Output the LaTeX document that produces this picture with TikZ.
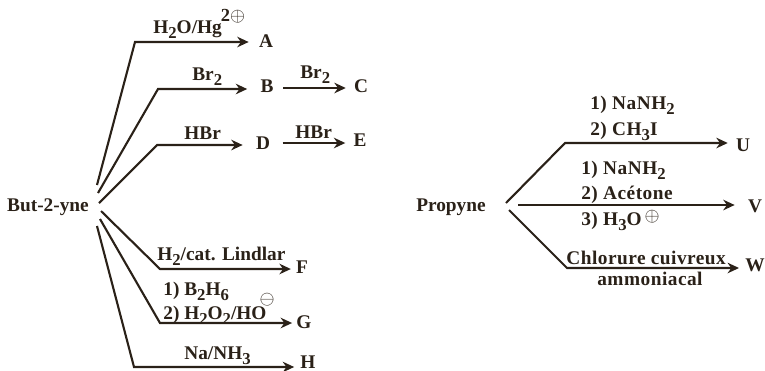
\documentclass[tikz,border=0pt]{standalone}
\usepackage{fontspec}
\setmainfont{Liberation Serif}
\newfontfamily\spaced[LetterSpace=2.5]{Liberation Serif}
\usepackage{xcolor}
\usetikzlibrary{arrows.meta}
\definecolor{ink}{HTML}{2A2118}
\newcommand{\dn}[1]{\raisebox{-0.6ex}{\fontsize{9.5}{10}\selectfont #1}}
\tikzset{
  cmp/.style={font=\bfseries\fontsize{11}{12}\selectfont, text=ink, inner sep=0pt},
  lbl/.style={font=\bfseries\fontsize{11}{12}\selectfont, text=ink, inner sep=0pt, anchor=base west},
  lblw/.style={lbl, font=\spaced\bfseries\fontsize{11}{12}\selectfont},
  chg/.style={font=\bfseries\fontsize{10.5}{11}\selectfont, text=ink, inner sep=0pt},
  rxn/.style={line width=1.2pt, draw=ink, -{Stealth[length=6.5pt,width=6pt]}},
}
\begin{document}
\begin{tikzpicture}[x=0.02cm,y=-0.02cm]
\useasboundingbox (0,0) rectangle (765,370);
% but-2-yne
\node[cmp] (but) at (48,207) {But-2-yne};
\node[cmp] (A) at (266,41) {A};
\node[cmp] (B) at (267,86) {B};
\node[cmp] (C) at (361,86) {C};
\node[cmp] (D) at (263,143) {D};
\node[cmp] (E) at (360,140) {E};
\node[cmp] (F) at (302,267) {F};
\node[cmp] (G) at (304,322) {G};
\node[cmp] (H) at (308,362) {H};
\coordinate (s1) at (97,185); \coordinate (k1) at (135,42);
\coordinate (s2) at (98,193); \coordinate (k2) at (158,89);
\coordinate (s3) at (99,203); \coordinate (k3) at (157,145);
\coordinate (s4) at (101,211); \coordinate (k4) at (160,269);
\coordinate (s5) at (100,219); \coordinate (k5) at (160,323);
\coordinate (s6) at (97,226); \coordinate (k6) at (134,367);
\draw[rxn, shorten >=5.7pt] (s1) -- (k1) -- (k1 -| A.west);
\draw[rxn, shorten >=7.4pt] (s2) -- (k2) -- (k2 -| B.west);
\draw[rxn, shorten >=7.4pt] (s3) -- (k3) -- (k3 -| D.west);
\draw[rxn, shorten >=2.8pt] (s4) -- (k4) -- (k4 -| F.west);
\draw[rxn, shorten >=2.3pt] (s5) -- (k5) -- (k5 -| G.west);
\draw[rxn, shorten >=3.4pt] (s6) -- (k6) -- (k6 -| H.west);
\draw[rxn, shorten <=5.5pt, shorten >=4.5pt] (B.east |- 0,88) -- (C.west |- 0,88);
\draw[rxn, shorten <=7pt, shorten >=4.5pt] (D.east |- 0,143) -- (E.west |- 0,143);
\node[lbl] (l1) at (153,33) {H\dn{2}O/Hg};
\node[chg] (c1) at (233,16) {2$\oplus$};
\node[lbl] (l2) at (192,80) {Br\dn{2}};
\node[lbl] (l3) at (300,78) {Br\dn{2}};
\node[lbl] (l4) at (184,139) {HBr};
\node[lbl] (l5) at (295,138) {HBr};
\node[lbl] (l6) at (157,260) {H\dn{2}/cat. Lindlar};
\node[lbl] (l7) at (163,295) {1) B\dn{2}H\dn{6}};
\node[lbl] (l8) at (163,319) {2) H\dn{2}O\dn{2}/HO};
\node[chg] (c2) at (267,300) {$\ominus$};
\node[lbl] (l9) at (184,359) {Na/NH\dn{3}};
% propyne
\node[cmp] (pro) at (451,207) {Propyne};
\node[cmp] (U) at (743,145) {U};
\node[cmp] (V) at (755,206) {V};
\node[cmp] (W) at (755,265) {W};
\coordinate (p1) at (506,203); \coordinate (q1) at (565,143);
\coordinate (p2) at (518,205);
\coordinate (p3) at (509,210); \coordinate (q3) at (567,268);
\draw[rxn, shorten >=4.5pt] (p1) -- (q1) -- (q1 -| U.west);
\draw[rxn, shorten >=7.4pt] (p2) -- (p2 -| V.west);
\draw[rxn, shorten >=3.4pt] (p3) -- (q3) -- (q3 -| W.west);
\node[lblw] (r1) at (590,109) {1) NaNH\dn{2}};
\node[lblw] (r2) at (590,135) {2) CH\dn{3}I};
\node[lblw] (r3) at (581,174) {1) NaNH\dn{2}};
\node[lblw] (r4) at (581,199) {2) Acétone};
\node[lblw] (r5) at (581,225) {3) H\dn{3}O};
\node[chg] (c3) at (652,217) {$\oplus$};
\node[lblw] (r6) at (566,264) {Chlorure cuivreux};
\node[lblw] (r7) at (597,285) {ammoniacal};
\end{tikzpicture}
\end{document}
